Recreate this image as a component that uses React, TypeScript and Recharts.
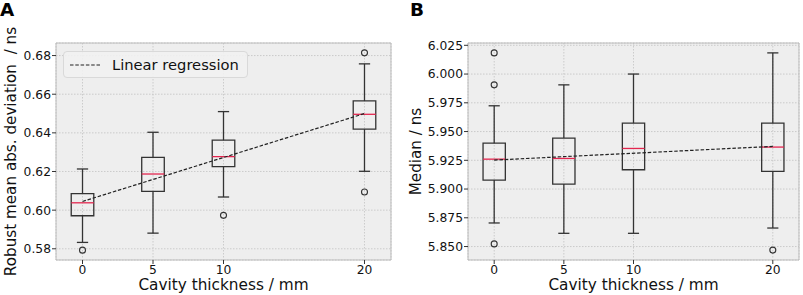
import React from 'react';
import {
  ComposedChart,
  Scatter,
  XAxis,
  YAxis,
  CartesianGrid,
  ReferenceArea,
  ReferenceLine,
} from 'recharts';

// Cavity thickness positions (mm)
const thicknessMm = [0, 5, 10, 20];
const xTicks = [0, 5, 10, 20];

// Panel A: robust mean abs. deviation / ns
const madWhiskerLow = [0.5833, 0.5881, 0.6068, 0.6201];
const madQ1 = [0.5971, 0.6097, 0.6225, 0.6419];
const madMedian = [0.6038, 0.6187, 0.6277, 0.6496];
const madQ3 = [0.6085, 0.6273, 0.6362, 0.6565];
const madWhiskerHigh = [0.6213, 0.6403, 0.651, 0.6757];
const madOutliers = [[0.5793], [], [0.5973], [0.6814, 0.6094]];
const madRegression = [0.6045, 0.65];
const madTicks = [0.58, 0.6, 0.62, 0.64, 0.66, 0.68];

// Panel B: median / ns
const medWhiskerLow = [5.8705, 5.8615, 5.8615, 5.8661];
const medQ1 = [5.9078, 5.9043, 5.9168, 5.9154];
const medMedian = [5.926, 5.9266, 5.9353, 5.9365];
const medQ3 = [5.9399, 5.9443, 5.9573, 5.9573];
const medWhiskerHigh = [5.9724, 5.9906, 6.0, 6.0184];
const medOutliers = [[6.0184, 5.9906, 5.8523], [], [], [5.8469]];
const medRegression = [5.9252, 5.9371];
const medTicks = [5.85, 5.875, 5.9, 5.925, 5.95, 5.975, 6.0, 6.025];

const regressionX = [0, 20];
const legendLabels = ['Linear regression'];

const FONT = '"DejaVu Sans", sans-serif';
const INK = '#333333';
const MEDIAN_RED = '#e3264f';
const REG_DASH = '3.5 1.8';
const BOX_HALF = 0.8;
const CAP_HALF = 0.4;
const X_DOMAIN: [number, number] = [-1.88, 21.88];

function RegressionLegend() {
  return (
    <div
      style={{
        position: 'absolute',
        left: 63,
        top: 51,
        boxSizing: 'border-box',
        width: 185,
        height: 27,
        display: 'flex',
        alignItems: 'center',
        paddingLeft: 6,
        background: 'rgba(241,241,241,0.9)',
        border: '1px solid #d9d9d9',
        borderRadius: 4,
        fontFamily: FONT,
        fontSize: 14.7,
        color: '#111',
        whiteSpace: 'nowrap',
      }}
    >
      {legendLabels.map((label) => (
        <React.Fragment key={label}>
          <svg width={31} height={6} style={{ marginRight: 11 }}>
            <line x1={0} y1={3} x2={31} y2={3} stroke="#222" strokeWidth={1.2} strokeDasharray={REG_DASH} />
          </svg>
          <span>{label}</span>
        </React.Fragment>
      ))}
    </div>
  );
}

interface PanelProps {
  left: number;
  width: number;
  tag: string;
  yLabel: string;
  yLabelX: number;
  yAxisWidth: number;
  marginRight: number;
  yDomain: [number, number];
  yTicks: number[];
  digits: number;
  low: number[];
  q1: number[];
  median: number[];
  q3: number[];
  high: number[];
  outliers: number[][];
  regression: number[];
  showLegend: boolean;
}

function BoxPanel(p: PanelProps) {
  const outlierPoints = thicknessMm.flatMap((x, i) => p.outliers[i].map((y) => ({ x, y })));
  const regressionPoints = regressionX.map((x, i) => ({ x, y: p.regression[i] }));
  const lineProps = { stroke: INK, strokeWidth: 1.3 };

  return (
    <div style={{ position: 'absolute', left: p.left, top: 0, width: p.width, height: 295 }}>
      <div
        style={{
          position: 'absolute',
          left: p.left === 0 ? 0 : 10,
          top: 1,
          fontFamily: FONT,
          fontWeight: 'bold',
          fontSize: 18.4,
          lineHeight: 1,
          color: '#000',
        }}
      >
        {p.tag}
      </div>
      <ComposedChart
        width={p.width}
        height={295}
        margin={{ top: 43, right: p.marginRight, left: 0, bottom: 0 }}
        style={{ fontFamily: FONT }}
      >
        <CartesianGrid fill="#eeeeee" stroke="#c2c2c2" strokeDasharray="1.5 1.5" strokeWidth={0.8} />
        <XAxis
          type="number"
          dataKey="x"
          domain={X_DOMAIN}
          ticks={xTicks}
          allowDataOverflow
          axisLine={false}
          tickSize={4}
          tickMargin={1}
          tickLine={{ stroke: INK }}
          tick={{ fontSize: 12.3, fill: '#111', fontFamily: FONT }}
          height={35}
          label={{
            content: ({ viewBox }: any) => (
              <text
                x={viewBox.x + viewBox.width / 2}
                y={viewBox.y + 29.5}
                textAnchor="middle"
                fontSize={15.3}
                fill="#111"
                fontFamily={FONT}
              >
                Cavity thickness / mm
              </text>
            ),
          }}
        />
        <YAxis
          type="number"
          dataKey="y"
          domain={p.yDomain}
          ticks={p.yTicks}
          allowDataOverflow
          axisLine={false}
          tickSize={4}
          tickMargin={1}
          tickLine={{ stroke: INK }}
          tick={{ fontSize: 12.3, fill: '#111', fontFamily: FONT }}
          tickFormatter={(v: number) => v.toFixed(p.digits)}
          width={p.yAxisWidth}
          label={{
            content: ({ viewBox }: any) => {
              const cx = p.yLabelX;
              const cy = viewBox.y + viewBox.height / 2;
              return (
                <text
                  x={cx}
                  y={cy}
                  textAnchor="middle"
                  transform={`rotate(-90 ${cx} ${cy})`}
                  fontSize={15.2}
                  fill="#111"
                  fontFamily={FONT}
                  style={{ whiteSpace: 'pre' }}
                >
                  {p.yLabel}
                </text>
              );
            },
          }}
        />

        {/* plot frame */}
        <ReferenceArea
          x1={X_DOMAIN[0]}
          x2={X_DOMAIN[1]}
          y1={p.yDomain[0]}
          y2={p.yDomain[1]}
          fill="none"
          stroke="#bcbcbc"
          strokeWidth={1}
          ifOverflow="visible"
        />

        {thicknessMm.map((x, i) => (
          <React.Fragment key={x}>
            <ReferenceLine segment={[{ x, y: p.q1[i] }, { x, y: p.low[i] }]} {...lineProps} ifOverflow="visible" />
            <ReferenceLine segment={[{ x, y: p.q3[i] }, { x, y: p.high[i] }]} {...lineProps} ifOverflow="visible" />
            <ReferenceLine
              segment={[{ x: x - CAP_HALF, y: p.low[i] }, { x: x + CAP_HALF, y: p.low[i] }]}
              {...lineProps}
              ifOverflow="visible"
            />
            <ReferenceLine
              segment={[{ x: x - CAP_HALF, y: p.high[i] }, { x: x + CAP_HALF, y: p.high[i] }]}
              {...lineProps}
              ifOverflow="visible"
            />
            <ReferenceArea
              x1={x - BOX_HALF}
              x2={x + BOX_HALF}
              y1={p.q1[i]}
              y2={p.q3[i]}
              fill="none"
              fillOpacity={0}
              {...lineProps}
              ifOverflow="visible"
            />
            <ReferenceLine
              segment={[{ x: x - BOX_HALF, y: p.median[i] }, { x: x + BOX_HALF, y: p.median[i] }]}
              stroke={MEDIAN_RED}
              strokeWidth={1.3}
              ifOverflow="visible"
            />
          </React.Fragment>
        ))}

        <Scatter
          name="Linear regression"
          data={regressionPoints}
          line={{ stroke: '#222', strokeWidth: 1.2, strokeDasharray: REG_DASH }}
          shape={() => <g />}
          isAnimationActive={false}
        />
        <Scatter
          name="outliers"
          data={outlierPoints}
          isAnimationActive={false}
          shape={(s: any) => <circle cx={s.cx} cy={s.cy} r={3} fill="none" stroke={INK} strokeWidth={1.1} />}
        />
      </ComposedChart>
      {p.showLegend && <RegressionLegend />}
    </div>
  );
}

export default function App() {
  return (
    <div style={{ position: 'absolute', left: 0, top: 0, width: 803, height: 295, background: '#fff' }}>
      <BoxPanel
        left={0}
        width={400}
        tag="A"
        yLabel="Robust mean abs. deviation  / ns"
        yLabelX={16}
        yAxisWidth={56}
        marginRight={9}
        yDomain={[0.5742, 0.6865]}
        yTicks={madTicks}
        digits={2}
        low={madWhiskerLow}
        q1={madQ1}
        median={madMedian}
        q3={madQ3}
        high={madWhiskerHigh}
        outliers={madOutliers}
        regression={madRegression}
        showLegend
      />
      <BoxPanel
        left={400}
        width={403}
        tag="B"
        yLabel="Median / ns"
        yLabelX={21}
        yAxisWidth={68}
        marginRight={4}
        yDomain={[5.8383, 6.027]}
        yTicks={medTicks}
        digits={3}
        low={medWhiskerLow}
        q1={medQ1}
        median={medMedian}
        q3={medQ3}
        high={medWhiskerHigh}
        outliers={medOutliers}
        regression={medRegression}
        showLegend={false}
      />
    </div>
  );
}
